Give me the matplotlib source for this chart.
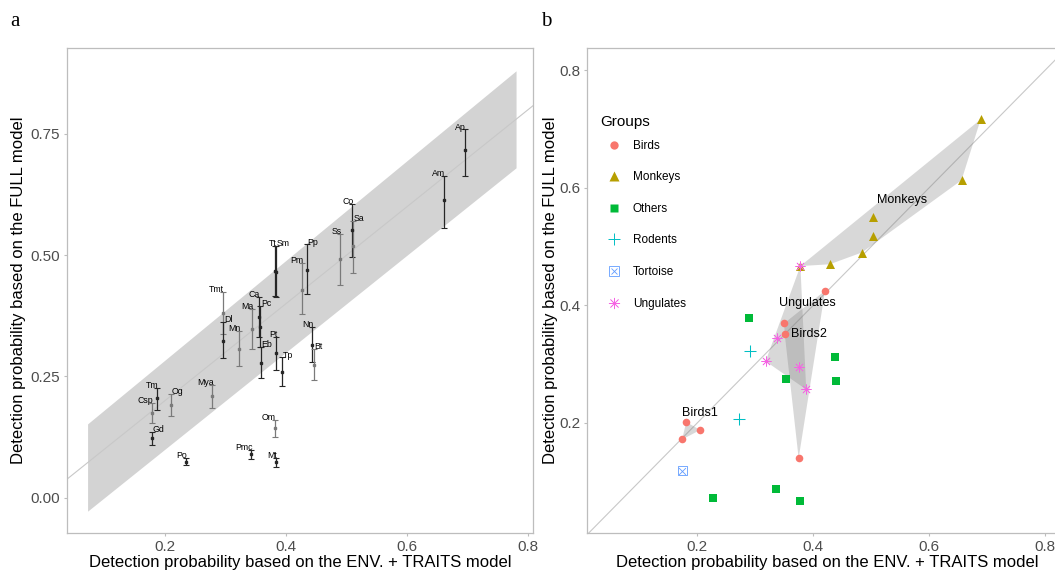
import numpy as np
import matplotlib
matplotlib.use('Agg')
import matplotlib.pyplot as plt
from matplotlib.lines import Line2D
from matplotlib.patches import Polygon

plt.rcParams['font.family'] = ['Liberation Sans', 'DejaVu Sans']

# ---- panel a: species estimates ----
species = ['Ap', 'Am', 'Co', 'Sa', 'Ss', 'Tt', 'Sm', 'Pp', 'Pm', 'Tmt', 'Dl', 'Ca', 'Pc', 'Ma', 'Mn',
           'Eb', 'Pt', 'Tp', 'Nn', 'Bt', 'Tm', 'Csp', 'Og', 'Gd', 'Mya', 'Om', 'Pmc', 'Mt', 'Po']
x_env = [0.695, 0.661, 0.509, 0.510, 0.489, 0.382, 0.383, 0.434, 0.426, 0.295, 0.296, 0.355, 0.357, 0.344, 0.322,
         0.358, 0.383, 0.394, 0.4435, 0.446, 0.186, 0.1785, 0.210, 0.178, 0.278, 0.381, 0.342, 0.383, 0.234]
y_full = [0.716, 0.613, 0.552, 0.519, 0.491, 0.468, 0.466, 0.470, 0.428, 0.381, 0.323, 0.373, 0.352, 0.347, 0.306,
          0.278, 0.298, 0.259, 0.314, 0.273, 0.2045, 0.175, 0.191, 0.122, 0.209, 0.144, 0.089, 0.074, 0.074]
y_low = [0.664, 0.556, 0.496, 0.463, 0.438, 0.416, 0.414, 0.419, 0.378, 0.337, 0.287, 0.332, 0.310, 0.306, 0.271,
         0.246, 0.264, 0.230, 0.280, 0.242, 0.180, 0.154, 0.168, 0.108, 0.185, 0.125, 0.079, 0.0635, 0.067]
y_high = [0.759, 0.664, 0.605, 0.571, 0.543, 0.519, 0.518, 0.522, 0.483, 0.424, 0.362, 0.414, 0.396, 0.388, 0.343,
          0.311, 0.332, 0.289, 0.352, 0.306, 0.227, 0.195, 0.213, 0.136, 0.233, 0.160, 0.099, 0.081, 0.081]

# band around the 1:1 line
band_x = [0.072, 0.78]
band_lo = [-0.028, 0.68]
band_hi = [0.152, 0.88]

# label side and bar shade (style only)
label_side = ['r', 'r', 'r', 'l', 'r', 'r', 'l', 'l', 'r', 'r', 'l', 'r', 'l', 'r', 'r',
              'l', 'r', 'l', 'r', 'l', 'r', 'r', 'l', 'l', 'r', 'r', 'r', 'r', 'r']
bar_dark = [1, 1, 1, 0, 0, 1, 1, 1, 0, 0, 1, 1, 1, 0, 0,
            1, 1, 1, 1, 0, 1, 0, 0, 1, 0, 0, 1, 1, 1]

# ---- panel b: groups ----
birds_x = [0.181, 0.205, 0.174, 0.350, 0.351, 0.375, 0.4205]
birds_y = [0.2017, 0.188, 0.172, 0.3695, 0.351, 0.140, 0.425]
birds_set = ['Birds1', 'Birds1', 'Birds1', 'Birds2', 'Birds2', 'Birds2', 'Birds2']
monkeys_x = [0.378, 0.4285, 0.484, 0.503, 0.503, 0.656, 0.689]
monkeys_y = [0.467, 0.470, 0.490, 0.518, 0.551, 0.613, 0.7165]
others_x = [0.289, 0.353, 0.438, 0.440, 0.228, 0.336, 0.378]
others_y = [0.379, 0.275, 0.3128, 0.271, 0.073, 0.087, 0.068]
rodents_x = [0.291, 0.272]
rodents_y = [0.3225, 0.206]
tortoise_x = [0.174]
tortoise_y = [0.119]
ungulates_x = [0.378, 0.338, 0.318, 0.376, 0.388]
ungulates_y = [0.467, 0.344, 0.305, 0.296, 0.257]

hull_names = ['Birds1', 'Birds2', 'Ungulates', 'Monkeys']
hull_label_x = [0.204, 0.393, 0.390, 0.553]
hull_label_y = [0.2175, 0.351, 0.4036, 0.580]


def hull(px, py):
    pts = sorted(set(zip(px, py)))
    if len(pts) < 3:
        return pts

    def cross(o, a, b):
        return (a[0] - o[0]) * (b[1] - o[1]) - (a[1] - o[1]) * (b[0] - o[0])
    lower, upper = [], []
    for p in pts:
        while len(lower) >= 2 and cross(lower[-2], lower[-1], p) <= 0:
            lower.pop()
        lower.append(p)
    for p in reversed(pts):
        while len(upper) >= 2 and cross(upper[-2], upper[-1], p) <= 0:
            upper.pop()
        upper.append(p)
    return lower[:-1] + upper[:-1]


def style_axes(ax):
    for s in ax.spines.values():
        s.set_color('#BDBDBD')
        s.set_linewidth(0.9)
    ax.tick_params(colors='#BDBDBD', labelcolor='#4D4D4D', labelsize=11, length=2.5, width=0.8, pad=2.5)


fig = plt.figure(figsize=(10.55, 5.72), dpi=100)
axa = fig.add_axes([67 / 1055, 39 / 572, 466 / 1055, 485 / 572])
axb = fig.add_axes([587 / 1055, 39 / 572, (1067 - 587) / 1055, 485 / 572])

# panel a
axa.fill_between(band_x, band_lo, band_hi, color='#D3D3D3', lw=0, zorder=1)
axa.axline((0, 0), slope=1, color='#C8C8C8', lw=0.8, zorder=2)
for i, sp in enumerate(species):
    col = '#262626' if bar_dark[i] else '#7A7A7A'
    axa.errorbar(x_env[i], y_full[i], yerr=[[y_full[i] - y_low[i]], [y_high[i] - y_full[i]]],
                 fmt='s', ms=2, color=col, ecolor=col, elinewidth=0.9, capsize=2.2, capthick=0.8, zorder=3)
    if label_side[i] == 'r':
        axa.annotate(sp, (x_env[i], y_high[i]), xytext=(1, -1.5), textcoords='offset points',
                     ha='right', va='bottom', fontsize=6.3, zorder=4)
    else:
        axa.annotate(sp, (x_env[i], y_high[i]), xytext=(0.5, -1.5), textcoords='offset points',
                     ha='left', va='bottom', fontsize=6.3, zorder=4)
axa.set_xlim(0.038, 0.808)
axa.set_ylim(-0.073, 0.927)
axa.set_xticks([0.2, 0.4, 0.6, 0.8])
axa.set_xticklabels(['0.2', '0.4', '0.6', '0.8'])
axa.set_yticks([0.0, 0.25, 0.5, 0.75])
axa.set_yticklabels(['0.00', '0.25', '0.50', '0.75'])
style_axes(axa)
axa.set_xlabel('Detection probability based on the ENV. + TRAITS model', fontsize=12, labelpad=1)
axa.set_ylabel('Detection probability based on the FULL model', fontsize=12, labelpad=3)

# panel b
axb.axline((0, 0), slope=1, color='#C8C8C8', lw=0.8, zorder=1)
bx = np.array(birds_x)
by = np.array(birds_y)
bset = np.array(birds_set)
hull_sets = {
    'Birds1': (bx[bset == 'Birds1'], by[bset == 'Birds1']),
    'Birds2': (bx[bset == 'Birds2'], by[bset == 'Birds2']),
    'Ungulates': (ungulates_x, ungulates_y),
    'Monkeys': (monkeys_x, monkeys_y),
}
for name in hull_names:
    hx, hy = hull_sets[name]
    axb.add_patch(Polygon(hull(hx, hy), closed=True, facecolor='#7F7F7F', alpha=0.3, lw=0, zorder=2))

axb.scatter(birds_x, birds_y, marker='o', s=30, color='#F8766D', lw=0, zorder=3)
axb.scatter(monkeys_x, monkeys_y, marker='^', s=42, color='#B79F00', lw=0, zorder=3)
axb.scatter(others_x, others_y, marker='s', s=30, color='#00BA38', lw=0, zorder=3)
axb.scatter(rodents_x, rodents_y, marker='+', s=70, color='#00BFC4', lw=0.75, zorder=3)
axb.scatter(tortoise_x, tortoise_y, marker='s', s=42, facecolor='none', edgecolor='#619CFF', lw=0.6, zorder=3)
axb.scatter(tortoise_x, tortoise_y, marker='x', s=24, color='#619CFF', lw=0.6, zorder=3)
axb.scatter(ungulates_x, ungulates_y, marker=(8, 2, 0), s=48, color='#F564E3', lw=0.5, zorder=3)

for name, lx, ly in zip(hull_names, hull_label_x, hull_label_y):
    axb.text(lx, ly, name, ha='center', va='center', fontsize=9, zorder=4)

handles = [
    Line2D([], [], ls='', marker='o', ms=6, mfc='#F8766D', mec='none'),
    Line2D([], [], ls='', marker='^', ms=7, mfc='#B79F00', mec='none'),
    Line2D([], [], ls='', marker='s', ms=6, mfc='#00BA38', mec='none'),
    Line2D([], [], ls='', marker='+', ms=9, mec='#00BFC4', mew=0.7),
    (Line2D([], [], ls='', marker='s', ms=7, mfc='none', mec='#619CFF', mew=0.6),
     Line2D([], [], ls='', marker='x', ms=5, mec='#619CFF', mew=0.6)),
    Line2D([], [], ls='', marker=(8, 2, 0), ms=8, mec='#F564E3', mew=0.5),
]
labels = ['Birds', 'Monkeys', 'Others', 'Rodents', 'Tortoise', 'Ungulates']
axb.legend(handles, labels, loc='upper left', bbox_to_anchor=(0.008, 0.828),
           frameon=False, fontsize=8.5, labelspacing=1.66,
           handlelength=2.5, handletextpad=0.35, borderaxespad=0.3)
axb.text(0.027, 0.847, 'Groups', transform=axb.transAxes, ha='left', va='center', fontsize=11)

axb.set_xlim(0.0098, 0.838)
axb.set_ylim(0.0128, 0.838)
axb.set_xticks([0.2, 0.4, 0.6, 0.8])
axb.set_xticklabels(['0.2', '0.4', '0.6', '0.8'])
axb.set_yticks([0.2, 0.4, 0.6, 0.8])
axb.set_yticklabels(['0.2', '0.4', '0.6', '0.8'])
style_axes(axb)
axb.set_xlabel('Detection probability based on the ENV. + TRAITS model', fontsize=12, labelpad=1)
axb.set_ylabel('Detection probability based on the FULL model', fontsize=12, labelpad=1)

fig.text(15 / 1055, 1 - 21 / 572, 'a', family='Liberation Serif', fontsize=15, ha='center', va='center')
fig.text(546 / 1055, 1 - 21 / 572, 'b', family='Liberation Serif', fontsize=15, ha='center', va='center')

fig.savefig('out.png', dpi=100)
